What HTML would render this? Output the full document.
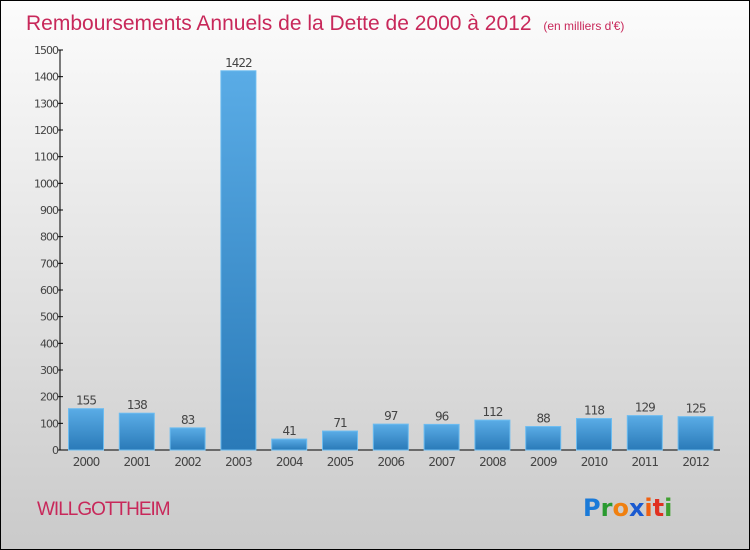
<!DOCTYPE html>
<html><head><meta charset="utf-8"><style>
body{margin:0}
#c{width:748px;height:548px;border:1px solid #000;background:linear-gradient(#fcfcfc,#cacaca);position:relative;font-family:"DejaVu Sans","Liberation Sans",sans-serif;overflow:hidden}
</style></head><body>
<div id="c">
<svg id="s" width="748" height="548">
<defs><linearGradient id="g" x1="0" y1="0" x2="0" y2="1"><stop offset="0" stop-color="#5aace6"/><stop offset="1" stop-color="#2a7ab8"/></linearGradient></defs>
<text x="25" y="29" font-size="21" fill="#c8285a" font-family="Liberation Sans, sans-serif">Remboursements Annuels de la Dette de 2000 à 2012 <tspan font-size="12" dx="6">(en milliers d'€)</tspan></text>
<text x="36" y="514" font-size="19" fill="#c8285a" font-family="Liberation Sans, sans-serif" letter-spacing="-1">WILLGOTTHEIM</text>
<g font-size="24" font-weight="bold" font-family="DejaVu Sans, sans-serif"><text x="582" y="515"><tspan fill="#1a7ad8">P</tspan><tspan fill="#2a9a30">r</tspan><tspan fill="#f08010">o</tspan><tspan fill="#1a5ad0">x</tspan><tspan fill="#f06010">i</tspan><tspan fill="#e03020">t</tspan><tspan fill="#40a030">i</tspan></text></g>
<g id="plot"></g>
</svg></div>
<script>
const categories=["2000","2001","2002","2003","2004","2005","2006","2007","2008","2009","2010","2011","2012"];
const values=[155,138,83,1422,41,71,97,96,112,88,118,129,125];
const yTicks=[0,100,200,300,400,500,600,700,800,900,1000,1100,1200,1300,1400,1500];
const NS="http://www.w3.org/2000/svg";
const p=document.getElementById('plot');
const x0=59,y0=449,yTop=49,xEnd=719,pitch=50.8,bw=35;
const y=v=>y0-(v/1500)*(y0-yTop);
const xc=i=>x0+26+i*pitch;
function mk(t,a,txt){const e=document.createElementNS(NS,t);for(const k in a)e.setAttribute(k,a[k]);if(txt!==undefined)e.textContent=txt;p.appendChild(e);return e;}
let ax=mk('line',{x1:x0,y1:yTop,x2:x0,y2:y0,stroke:'#000'});


let bx=mk('line',{x1:x0,y1:y0,x2:xEnd,y2:y0,stroke:'#000'});


yTicks.forEach(v=>{
 let t=mk('line',{x1:x0-2,y1:y(v),x2:x0+3,y2:y(v),stroke:'#000'});
 
 
 let l=mk('text',{x:x0-2,y:y(v)+4,'font-size':11,'text-anchor':'end',fill:'#444','letter-spacing':'-1'},v);
 
 
});
categories.forEach((c,i)=>{
 let r=mk('rect',{x:xc(i)-bw/2,y:y(values[i]),width:bw,height:y0-y(values[i]),fill:'url(#g)',stroke:'#6cbcf0','stroke-width':1});
 
 
 let v=mk('text',{x:xc(i),y:y(values[i])-4,'font-size':12,'text-anchor':'middle',fill:'#444','letter-spacing':'-1'},values[i]);
 
 
 let l=mk('text',{x:xc(i),y:y0+16,'font-size':12,'text-anchor':'middle',fill:'#444','letter-spacing':'-1'},c);
 
 
});
</script>
</body></html>
